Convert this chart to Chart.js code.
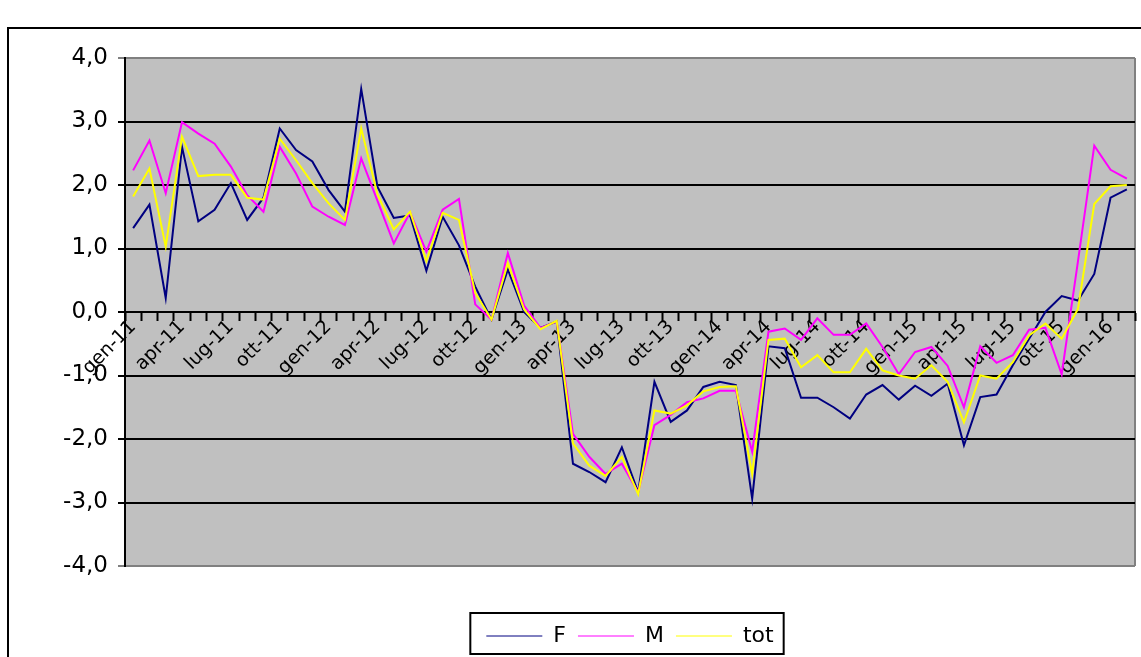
<!DOCTYPE html>
<html>
<head>
<meta charset="utf-8">
<script src="https://cdn.jsdelivr.net/npm/chart.js@4.4.1/dist/chart.umd.min.js"></script>
<style>
  html, body { margin: 0; padding: 0; background: #fff; overflow: hidden; }
  #wrap { position: relative; width: 1141px; height: 657px; }
  #frame { position: absolute; left: 7px; top: 27px; width: 1200px; height: 700px; border: 2px solid #000; box-sizing: border-box; pointer-events: none; }
  canvas { position: absolute; left: 0; top: 0; }
</style>
</head>
<body>
<div id="wrap">
  <div id="frame"></div>
  <canvas id="myChart" width="1141" height="657"></canvas>
</div>
<script>
const months = [
    'gen-11','feb-11','mar-11','apr-11','mag-11','giu-11','lug-11','ago-11','set-11','ott-11','nov-11','dic-11',
    'gen-12','feb-12','mar-12','apr-12','mag-12','giu-12','lug-12','ago-12','set-12','ott-12','nov-12','dic-12',
    'gen-13','feb-13','mar-13','apr-13','mag-13','giu-13','lug-13','ago-13','set-13','ott-13','nov-13','dic-13',
    'gen-14','feb-14','mar-14','apr-14','mag-14','giu-14','lug-14','ago-14','set-14','ott-14','nov-14','dic-14',
    'gen-15','feb-15','mar-15','apr-15','mag-15','giu-15','lug-15','ago-15','set-15','ott-15','nov-15','dic-15',
    'gen-16','feb-16'
];

const valuesF = [
    1.32, 1.69, 0.22, 2.60, 1.43, 1.61, 2.03, 1.45, 1.80, 2.89, 2.55, 2.37,
    1.92, 1.58, 3.51, 1.97, 1.48, 1.52, 0.65, 1.50, 1.05, 0.40, -0.12, 0.67,
    0.00, -0.25, -0.15, -2.39, -2.52, -2.68, -2.13, -2.84, -1.10, -1.73, -1.55, -1.18,
    -1.10, -1.15, -2.94, -0.54, -0.57, -1.35, -1.35, -1.50, -1.68, -1.30, -1.15, -1.38,
    -1.16, -1.32, -1.13, -2.10, -1.34, -1.30, -0.84, -0.42, 0.00, 0.25, 0.18, 0.60,
    1.80, 1.93
];

const valuesM = [
    2.23, 2.70, 1.87, 2.99, 2.81, 2.65, 2.29, 1.84, 1.58, 2.60, 2.18, 1.66,
    1.50, 1.37, 2.42, 1.75, 1.08, 1.57, 0.95, 1.61, 1.78, 0.12, -0.12, 0.93,
    0.10, -0.25, -0.15, -1.92, -2.28, -2.55, -2.39, -2.84, -1.78, -1.62, -1.42, -1.36,
    -1.24, -1.24, -2.20, -0.31, -0.26, -0.44, -0.10, -0.36, -0.36, -0.18, -0.55, -0.98,
    -0.63, -0.55, -0.85, -1.50, -0.54, -0.80, -0.68, -0.28, -0.25, -0.98, 0.80, 2.62,
    2.24, 2.10
];

const valuesTot = [
    1.82, 2.26, 1.03, 2.76, 2.14, 2.16, 2.16, 1.80, 1.77, 2.73, 2.39, 2.03,
    1.71, 1.45, 2.89, 1.85, 1.30, 1.58, 0.80, 1.56, 1.45, 0.30, -0.12, 0.77,
    0.04, -0.27, -0.14, -2.07, -2.42, -2.58, -2.28, -2.87, -1.55, -1.60, -1.47, -1.25,
    -1.18, -1.17, -2.55, -0.44, -0.42, -0.87, -0.68, -0.95, -0.95, -0.58, -0.92, -1.00,
    -1.05, -0.84, -1.10, -1.74, -1.00, -1.05, -0.79, -0.37, -0.18, -0.42, 0.05, 1.70,
    1.98, 2.00
];

const yTicks = [-4, -3, -2, -1, 0, 1, 2, 3, 4];
const yTickLabels = ['-4,0', '-3,0', '-2,0', '-1,0', '0,0', '1,0', '2,0', '3,0', '4,0'];

// grey plot area + right edge + frame round the legend
const excelLook = {
    id: 'excelLook',
    beforeDraw(chart) {
        const {ctx, chartArea: a} = chart;
        ctx.save();
        ctx.fillStyle = '#c0c0c0';
        ctx.fillRect(a.left, a.top, a.right - a.left, a.bottom - a.top);
        ctx.strokeStyle = '#808080';
        ctx.lineWidth = 2;
        ctx.beginPath();
        ctx.moveTo(a.right, a.top);
        ctx.lineTo(a.right, a.bottom);
        ctx.stroke();
        ctx.restore();
    },
    afterDraw(chart) {
        const boxes = chart.legend.legendHitBoxes;
        if (!boxes || !boxes.length) return;
        const ctx = chart.ctx;
        const left = Math.min(...boxes.map(b => b.left)) - 16;
        const right = Math.max(...boxes.map(b => b.left + b.width)) + 10;
        const top = chart.chartArea.bottom + 47;
        ctx.save();
        ctx.strokeStyle = '#000';
        ctx.lineWidth = 2;
        ctx.strokeRect(left, top, right - left, 41);
        ctx.restore();
    }
};

const ctx = document.getElementById('myChart');

new Chart(ctx, {
    type: 'line',

    data: {
        labels: months,

        datasets: [{
            label: 'F',
            data: valuesF,
            borderColor: '#000080',
            backgroundColor: '#000080',
            order: 3
        }, {
            label: 'M',
            data: valuesM,
            borderColor: '#ff00ff',
            backgroundColor: '#ff00ff',
            order: 2
        }, {
            label: 'tot',
            data: valuesTot,
            borderColor: '#ffff00',
            backgroundColor: '#ffff00',
            order: 1
        }]
    },

    options: {
        responsive: false,
        animation: false,
        events: [],

        elements: {
            line: { borderWidth: 2, tension: 0 },
            point: { radius: 0 }
        },

        layout: {
            padding: { left: 0, right: 6, top: 58, bottom: 0 }
        },

        plugins: {
            tooltip: { enabled: false },
            legend: {
                position: 'bottom',
                fullSize: false,
                // empty title only used as a spacer above the legend
                title: {
                    display: true,
                    text: ' ',
                    font: { size: 20, lineHeight: 1 },
                    padding: { top: 27, bottom: 0 }
                },
                labels: {
                    color: '#000',
                    font: { family: 'DejaVu Sans', size: 22 },
                    usePointStyle: true,
                    pointStyle: 'line',
                    pointStyleWidth: 56,
                    padding: 12,
                    sort: (a, b) => a.datasetIndex - b.datasetIndex
                }
            }
        },

        scales: {
            x: {
                type: 'category',
                position: { y: 0 },
                offset: true,
                afterFit(scale) { scale.height = 0; },
                grid: {
                    offset: true,
                    drawOnChartArea: false,
                    tickLength: 8,
                    tickWidth: 2,
                    color: '#000'
                },
                border: { color: '#000', width: 2 },
                ticks: {
                    autoSkip: false,
                    minRotation: 45,
                    maxRotation: 45,
                    padding: -4,
                    color: '#000',
                    font: { family: 'DejaVu Sans', size: 19 },
                    callback: function (value, index) {
                        return index % 3 === 0 ? this.getLabelForValue(value) : '';
                    }
                }
            },

            y: {
                min: -4,
                max: 4,
                afterFit(scale) { scale.width = 125; },
                afterBuildTicks(scale) {
                    scale.ticks = yTicks.map(v => ({ value: v }));
                },
                grid: {
                    lineWidth: 2,
                    tickLength: 7,
                    color: c => (Math.abs(c.tick.value) === 4 ? '#808080' : '#000')
                },
                border: { color: '#000', width: 2 },
                ticks: {
                    padding: 10,
                    color: '#000',
                    font: { family: 'DejaVu Sans', size: 23 },
                    callback: value => yTickLabels[yTicks.indexOf(value)]
                }
            }
        }
    },

    plugins: [excelLook]
});
</script>
</body>
</html>
